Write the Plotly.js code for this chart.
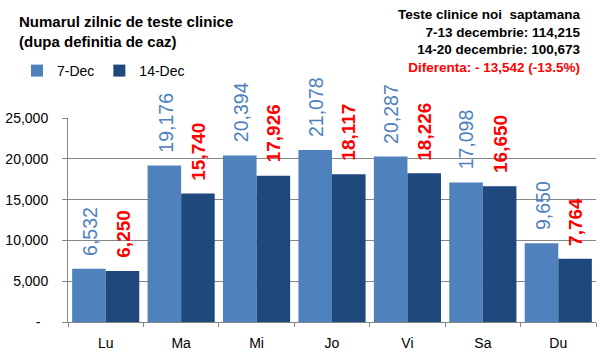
<!DOCTYPE html>
<html>
<head>
<meta charset="utf-8">
<script src="https://cdn.plot.ly/plotly-3.0.1.min.js"></script>
<style>html,body{margin:0;padding:0;background:#fff;}#chart{width:600px;height:360px;}</style>
</head>
<body>
<div id="chart"></div>
<script>
const categories = ["Lu", "Ma", "Mi", "Jo", "Vi", "Sa", "Du"];
const seriesNames = ["7-Dec", "14-Dec"];
const dec7 = [6532, 19176, 20394, 21078, 20287, 17098, 9650];
const dec14 = [6250, 15740, 17926, 18117, 18226, 16650, 7764];
const yTickVals = [0, 5000, 10000, 15000, 20000, 25000];
const yTickText = ["-\u00a0\u00a0", "5,000", "10,000", "15,000", "20,000", "25,000"];
const titleLines = ["Numarul zilnic de teste clinice", "(dupa definitia de caz)"];
const infoLines = ["Teste clinice noi  saptamana", "7-13 decembrie: 114,215", "14-20 decembrie: 100,673"];
const diffLine = "Diferenta: - 13,542 (-13.5%)";

const LIGHT = "#4F81BD", DARK = "#1F497D", RED = "#FF0000", GRID = "#868686";
const fmt = v => v.toLocaleString("en-US");

const traces = [
  {type: "bar", name: seriesNames[0], x: categories, y: dec7, marker: {color: LIGHT}, hoverinfo: "skip"},
  {type: "bar", name: seriesNames[1], x: categories, y: dec14, marker: {color: DARK}, hoverinfo: "skip"}
];

const annotations = [];
categories.forEach((c, i) => {
  annotations.push({x: c, y: dec7[i], xref: "x", yref: "y", text: fmt(dec7[i]), showarrow: false,
    textangle: -90, xanchor: "center", yanchor: "bottom", xshift: -16, yshift: 11,
    font: {family: "Liberation Sans, Arial, sans-serif", size: 19.5, color: LIGHT}});
  annotations.push({x: c, y: dec14[i], xref: "x", yref: "y", text: "<b>" + fmt(dec14[i]) + "</b>", showarrow: false,
    textangle: -90, xanchor: "center", yanchor: "bottom", xshift: 17, yshift: 11,
    font: {family: "Liberation Sans, Arial, sans-serif", size: 19, color: RED}});
});
annotations.push({
  xref: "paper", yref: "paper", x: 0.975, y: 1.555, xanchor: "right", yanchor: "top", align: "right",
  showarrow: false,
  text: infoLines.map(s => "<b>" + s + "</b>").join("<br>") + "<br><b><span style=\"color:" + RED + "\">" + diffLine + "</span></b>",
  font: {family: "Liberation Sans, Arial, sans-serif", size: 13.5, color: "#000"}
});

const layout = {
  width: 600, height: 360,
  margin: {l: 68, r: 4, t: 118, b: 38, pad: 0},
  paper_bgcolor: "#fff", plot_bgcolor: "#fff",
  font: {family: "Liberation Sans, Arial, sans-serif", size: 14, color: "#000"},
  title: {text: "<b>" + titleLines.join("<br>") + "</b>", xref: "container", yref: "container",
    x: 19 / 600, xanchor: "left", y: 1 - 27 / 360, yanchor: "top",
    font: {family: "Liberation Sans, Arial, sans-serif", size: 15, color: "#000"}},
  showlegend: true,
  legend: {orientation: "h", xref: "container", yref: "container", x: 17 / 600, xanchor: "left",
    y: 1 - 55 / 360, yanchor: "top", font: {size: 14}, bgcolor: "rgba(0,0,0,0)", traceorder: "normal"},
  bargap: 0.11, bargroupgap: 0,
  xaxis: {type: "category", showline: true, linecolor: GRID, linewidth: 1, ticks: "outside",
    tickson: "boundaries", ticklen: 4, tickcolor: GRID, showgrid: false, fixedrange: true,
    tickfont: {size: 14}, ticklabelstandoff: 8},
  yaxis: {range: [0, 25000], tickvals: yTickVals, ticktext: yTickText, showline: true, linecolor: GRID,
    linewidth: 1, ticks: "outside", ticklen: 5, tickcolor: GRID, showgrid: true, gridcolor: GRID,
    gridwidth: 1, zeroline: false, fixedrange: true, tickfont: {size: 14}, ticklabelstandoff: 11},
  annotations: annotations
};

Plotly.newPlot("chart", traces, layout, {displayModeBar: false, staticPlot: true});
</script>
</body>
</html>
